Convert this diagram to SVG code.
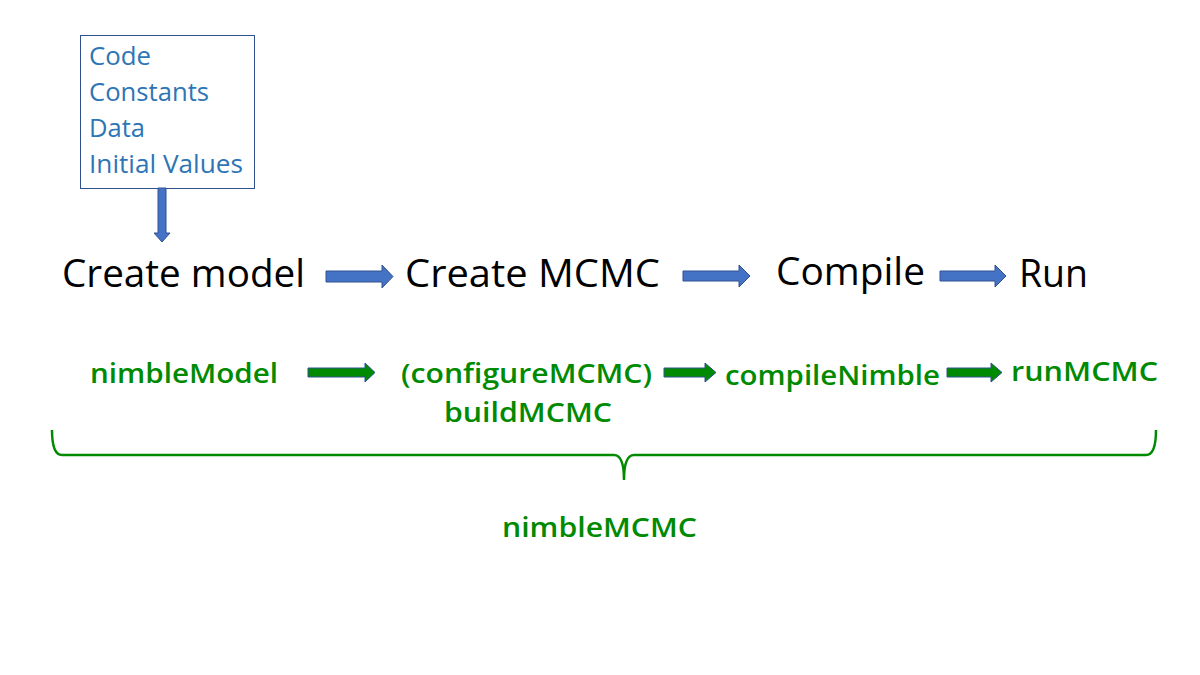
<svg xmlns="http://www.w3.org/2000/svg" width="1200" height="675" viewBox="0 0 1200 675">
<style>
.blue{font-family:"Open Sans","Liberation Sans",sans-serif;font-size:25px;fill:#2E75B6}
.main{font-family:"Open Sans","Liberation Sans",sans-serif;font-size:39px;fill:#000}
.green{font-family:"Open Sans","Liberation Sans",sans-serif;font-size:27px;font-weight:600;fill:#008A00}
.barrow{fill:#4472C4;stroke:#2F528F;stroke-width:1}
.garrow{fill:#008A00;stroke:#2F528F;stroke-width:1}
</style>
<rect width="1200" height="675" fill="#fff"/>
<g id="inputs">
<rect x="80.5" y="35.5" width="174" height="153" fill="#fff" stroke="#2F528F" stroke-width="1"/>
<text class="blue" x="89" y="65" textLength="62" lengthAdjust="spacingAndGlyphs">Code</text>
<text class="blue" x="89" y="101" textLength="120" lengthAdjust="spacingAndGlyphs">Constants</text>
<text class="blue" x="89" y="137" textLength="56" lengthAdjust="spacingAndGlyphs">Data</text>
<text class="blue" x="89" y="173" textLength="154" lengthAdjust="spacingAndGlyphs">Initial Values</text>
</g>
<g id="create-model"><text class="main" x="62" y="287" textLength="243" lengthAdjust="spacingAndGlyphs">Create model</text></g>
<g id="create-mcmc"><text class="main" x="405" y="287" textLength="255" lengthAdjust="spacingAndGlyphs">Create MCMC</text></g>
<g id="compile"><text class="main" x="776" y="285" textLength="149" lengthAdjust="spacingAndGlyphs">Compile</text></g>
<g id="run"><text class="main" x="1019" y="287" textLength="69" lengthAdjust="spacingAndGlyphs">Run</text></g>
<g id="nimbleModel"><text class="green" x="90" y="383" textLength="188" lengthAdjust="spacingAndGlyphs">nimbleModel</text></g>
<g id="configure"><text class="green" x="401" y="383" textLength="251" lengthAdjust="spacingAndGlyphs">(configureMCMC)</text>
<text class="green" x="444" y="422" textLength="168" lengthAdjust="spacingAndGlyphs">buildMCMC</text></g>
<g id="compileNimble"><text class="green" x="725" y="385" textLength="215" lengthAdjust="spacingAndGlyphs">compileNimble</text></g>
<g id="runMCMC"><text class="green" x="1011" y="381" textLength="147" lengthAdjust="spacingAndGlyphs">runMCMC</text></g>
<g id="nimbleMCMC"><text class="green" x="502" y="537" textLength="195" lengthAdjust="spacingAndGlyphs">nimbleMCMC</text></g>
<g id="connectors">
<polygon class="barrow" points="158,188 166,188 166,233 170,233 162,242 154,233 158,233"/>
<polygon class="barrow" points="326,271 382,271 382,265 393,276.5 382,288 382,282 326,282"/>
<polygon class="barrow" points="683,271 739,271 739,265 750,276 739,287 739,281 683,281"/>
<polygon class="barrow" points="940,271 995,271 995,265 1006,276 995,287 995,281 940,281"/>
<polygon class="garrow" points="308,368 365,368 365,363 375,372.5 365,382 365,377 308,377"/>
<polygon class="garrow" points="664,368 705,368 705,363 716,372.5 705,382 705,377 664,377"/>
<polygon class="garrow" points="947,368 991,368 991,363 1002,372.5 991,382 991,377 947,377"/>
<path d="M52,430 Q52,455 62,455 L614,455 Q624,455 624,480 Q624,455 634,455 L1146,455 Q1156,455 1156,430" fill="none" stroke="#008A00" stroke-width="2.5"/>
</g>
</svg>
